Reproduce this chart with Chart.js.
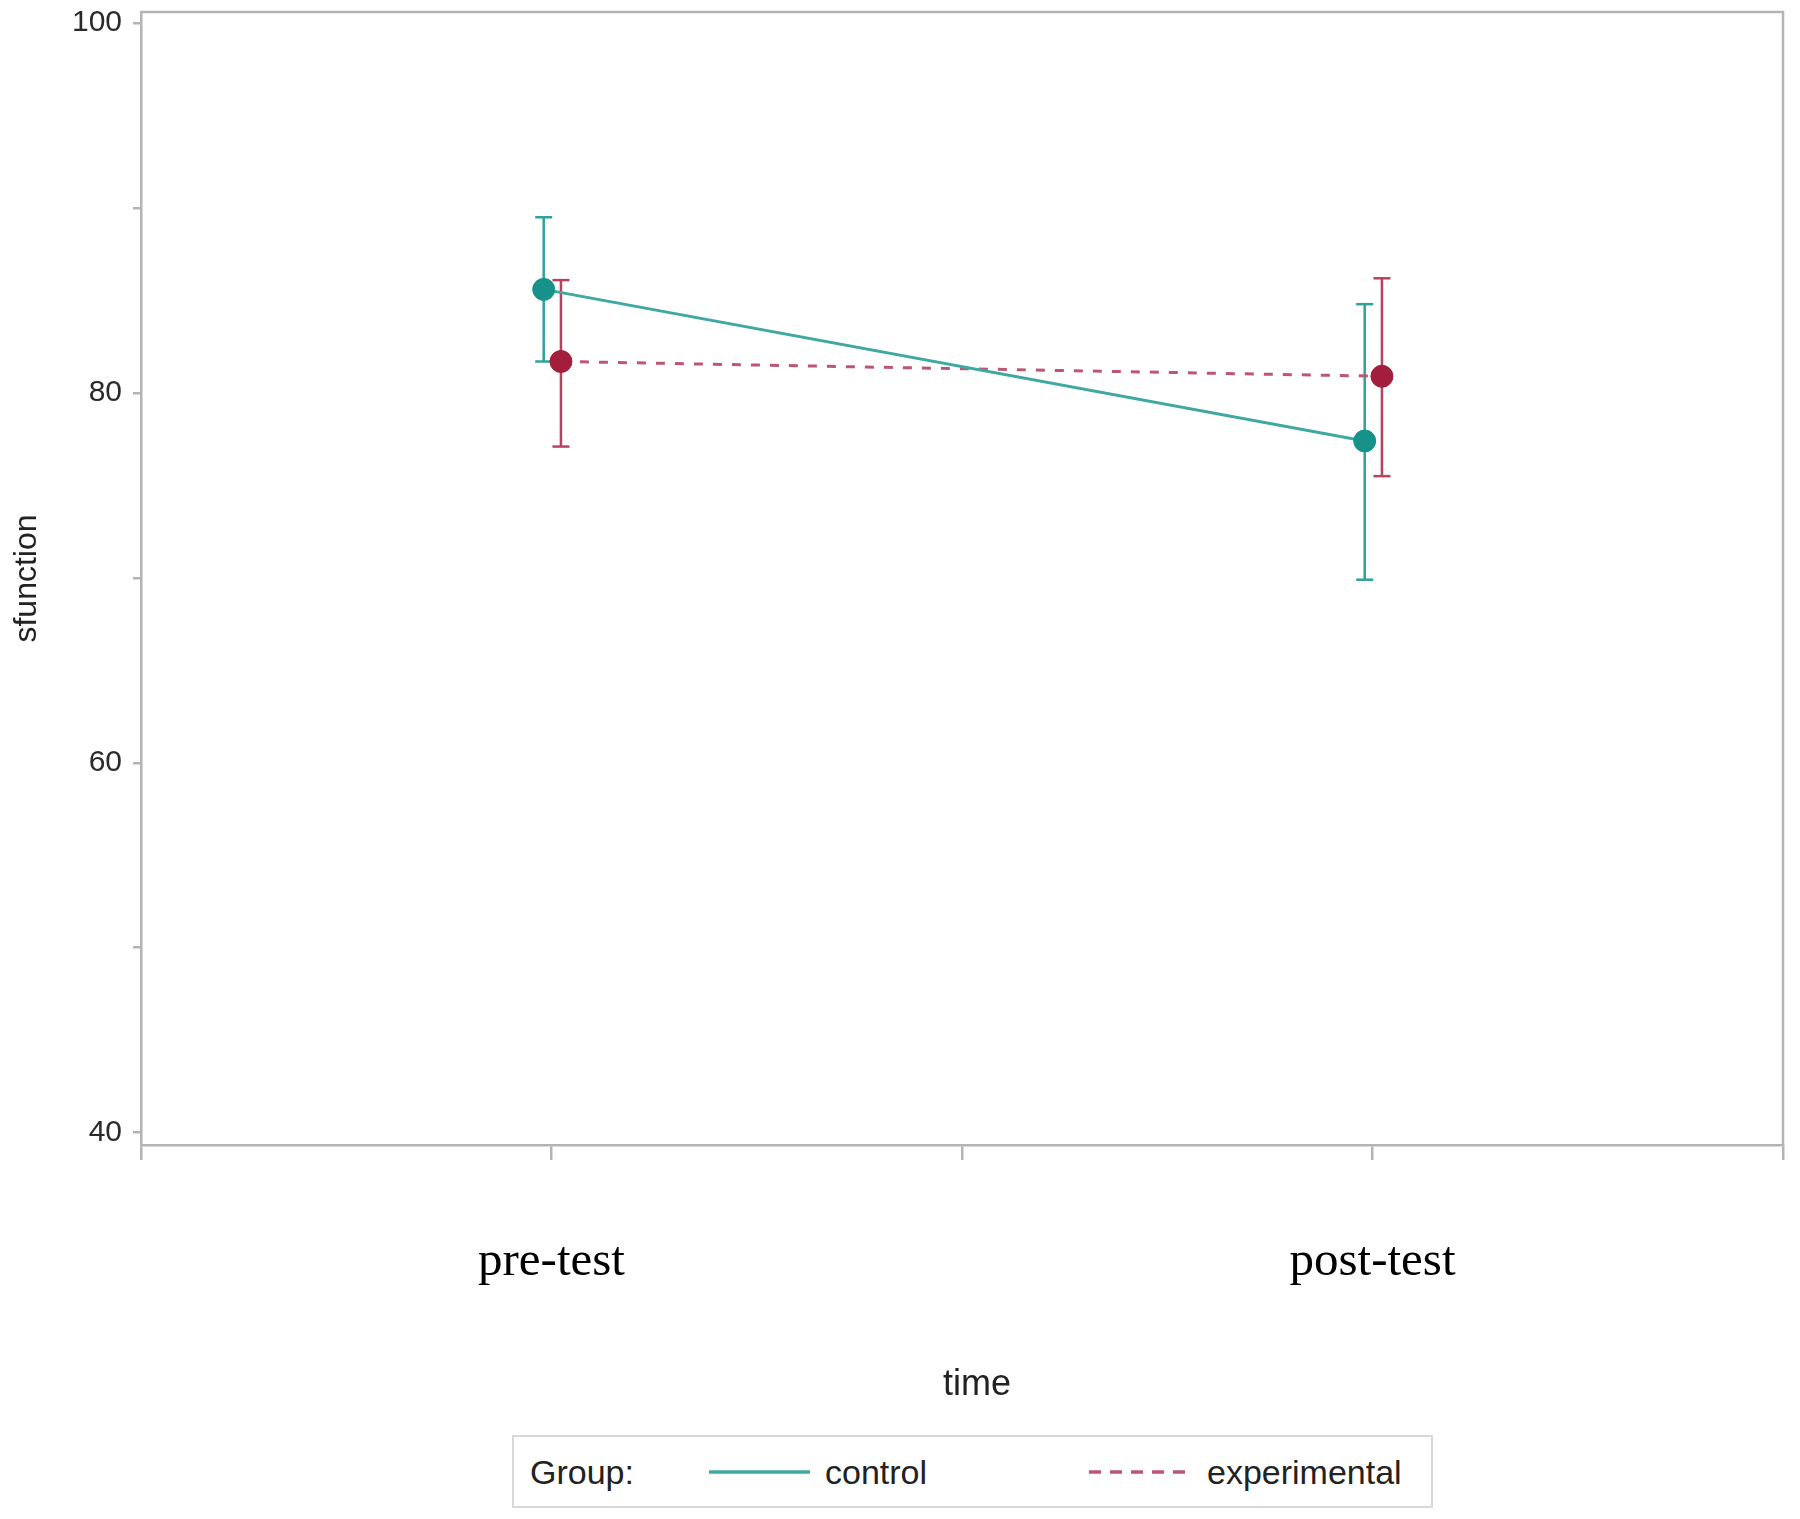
<!DOCTYPE html>
<html>
<head>
<meta charset="utf-8">
<title>sfunction by time and group</title>
<script src="https://cdn.jsdelivr.net/npm/chart.js@4.4.1/dist/chart.umd.min.js"></script>
<style>
  body { margin: 0; background: #fff; }
  #wrap { position: relative; width: 1800px; height: 1519px; }
  #chart { position: absolute; left: 0; top: 0; }
  .legend {
    position: absolute; left: 512px; top: 1435px; width: 917px; height: 69px;
    border: 2px solid #d8d8d8; background: #fff;
    font-family: "Liberation Sans", Arial, sans-serif; font-size: 34px; color: #222;
  }
  .legend span, .legend svg { position: absolute; top: 50%; transform: translateY(-50%); }
</style>
</head>
<body>
<div id="wrap">
  <canvas id="chart" width="1800" height="1519"></canvas>
  <div class="legend" id="legend"></div>
</div>
<script>
// time points (x positions on a 0..4 axis)
const timeLabels = ['pre-test', 'post-test'];
const timePos = [1, 3];

// group means with error bar limits
const groups = ['control', 'experimental'];
const controlMean = [85.6, 77.4];
const controlLow = [81.7, 69.9];
const controlHigh = [89.5, 84.8];
const expMean = [81.7, 80.9];
const expLow = [77.1, 75.5];
const expHigh = [86.1, 86.2];

const axisGray = '#b4b4b4';
const dodge = { control: -0.019, experimental: 0.023 };

function meanPoints(means, shift) {
    return timePos.map((x, i) => ({ x: x + shift, y: means[i] }));
}

// two points per bar, null point breaks the line between bars
function errorPoints(low, high, shift) {
    const pts = [];
    timePos.forEach((x, i) => {
        pts.push({ x: x + shift, y: low[i] }, { x: x + shift, y: high[i] }, { x: x + shift, y: null });
    });
    return pts;
}

// top and right border of the plot frame
const framePlugin = {
    id: 'frame',
    beforeDatasetsDraw(chart) {
        const { ctx, chartArea: a } = chart;
        ctx.save();
        ctx.strokeStyle = axisGray;
        ctx.lineWidth = 2.5;
        ctx.beginPath();
        ctx.moveTo(a.left, a.top);
        ctx.lineTo(a.right, a.top);
        ctx.lineTo(a.right, a.bottom);
        ctx.stroke();
        ctx.restore();
    }
};

const sansFamily = '"Liberation Sans", Arial, sans-serif';

new Chart(document.getElementById('chart'), {
    type: 'scatter',
    data: {
        datasets: [
            {
                label: 'control',
                data: meanPoints(controlMean, dodge.control),
                showLine: true,
                borderColor: '#3fa9a1',
                borderWidth: 3,
                pointRadius: 11,
                pointBackgroundColor: '#16928a',
                pointBorderColor: '#16928a',
                pointBorderWidth: 1
            },
            {
                label: 'experimental',
                data: meanPoints(expMean, dodge.experimental),
                showLine: true,
                borderColor: '#bd5672',
                borderWidth: 3,
                borderDash: [9, 10],
                pointRadius: 11,
                pointBackgroundColor: '#a31d3c',
                pointBorderColor: '#a31d3c',
                pointBorderWidth: 1
            },
            {
                label: 'control CI',
                data: errorPoints(controlLow, controlHigh, dodge.control),
                showLine: true,
                spanGaps: false,
                borderColor: '#2fa29a',
                borderWidth: 2.5,
                pointStyle: 'line',
                pointRadius: 8.5,
                pointBorderColor: '#2fa29a',
                pointBorderWidth: 2.5
            },
            {
                label: 'experimental CI',
                data: errorPoints(expLow, expHigh, dodge.experimental),
                showLine: true,
                spanGaps: false,
                borderColor: '#b7425e',
                borderWidth: 2.5,
                pointStyle: 'line',
                pointRadius: 8.5,
                pointBorderColor: '#b7425e',
                pointBorderWidth: 2.5
            }
        ]
    },
    options: {
        responsive: false,
        animation: false,
        layout: { padding: { top: 11.5, right: 17, bottom: 0, left: 0 } },
        plugins: { legend: { display: false }, tooltip: { enabled: false } },
        scales: {
            x: {
                type: 'linear',
                min: 0,
                max: 4,
                afterFit: s => { s.height = 374; s.paddingLeft = 0; s.paddingRight = 0; },
                ticks: {
                    stepSize: 1,
                    autoSkip: false,
                    maxRotation: 0,
                    padding: 73,
                    color: '#000',
                    font: { family: '"Liberation Serif", "Times New Roman", serif', size: 49 },
                    callback: v => {
                        const i = timePos.indexOf(v);
                        return i >= 0 ? timeLabels[i] : '';
                    }
                },
                grid: { drawOnChartArea: false, tickLength: 15, color: axisGray, lineWidth: 2.5 },
                border: { color: axisGray, width: 2.5 },
                title: {
                    display: true, text: '   time', color: '#222',
                    font: { family: sansFamily, size: 36 },
                    padding: { top: 0, bottom: 112 }
                }
            },
            y: {
                min: 39.33,
                max: 100.6,
                afterFit: s => { s.width = 141; s.paddingTop = 0; s.paddingBottom = 0; },
                ticks: {
                    stepSize: 10,
                    includeBounds: false,
                    padding: 11,
                    color: '#2a2a2a',
                    font: { family: sansFamily, size: 30 },
                    callback: v => (v % 20 === 0 ? v : '')
                },
                grid: { drawOnChartArea: false, tickLength: 8, color: axisGray, lineWidth: 2.5 },
                border: { color: axisGray, width: 2.5 },
                title: {
                    display: true, text: 'sfunction', color: '#222',
                    font: { family: sansFamily, size: 32 },
                    padding: { top: 8, bottom: 0 }
                }
            }
        }
    },
    plugins: [framePlugin]
});

// Custom legend: "Group:" then a line sample per group
const legendEl = document.getElementById('legend');
const legendItems = [
    { label: groups[0], color: '#3fa9a1', dash: '', sampleLeft: 195, textLeft: 311 },
    { label: groups[1], color: '#bd5672', dash: '12 9', sampleLeft: 575, textLeft: 693 }
];
legendEl.innerHTML = '<span style="left:16px">Group:</span>';
legendItems.forEach(item => {
    legendEl.innerHTML +=
        `<svg width="101" height="6" style="left:${item.sampleLeft}px">` +
        `<line x1="0" y1="3" x2="101" y2="3" stroke="${item.color}" stroke-width="3.5"` +
        (item.dash ? ` stroke-dasharray="${item.dash}"` : '') + `/></svg>` +
        `<span style="left:${item.textLeft}px">${item.label}</span>`;
});
</script>
</body>
</html>
